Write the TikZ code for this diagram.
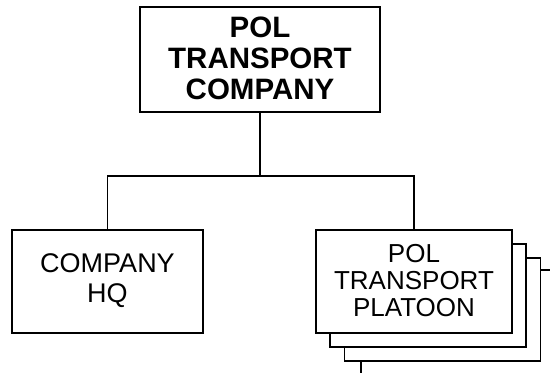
\documentclass[tikz,border=0pt]{standalone}
\usepackage{fontspec}
\setmainfont{Liberation Sans}
\begin{document}
\begin{tikzpicture}[x=1pt,y=-1pt,line width=1.4pt,
  box/.style={draw,fill=white,inner sep=0pt,align=center,minimum height=103pt},
  topbox/.style={box,minimum width=240pt,minimum height=105pt},
  hqbox/.style={box,minimum width=191pt},
  plbox/.style={box,minimum width=196pt},
  lbl/.style={inner sep=0pt,align=center}]
\useasboundingbox (0,0) rectangle (550,373);
\node[topbox] (co) at (260,59.5) {};
\node[lbl,font={\fontsize{29.5}{31}\selectfont\bfseries}] (cot) at (260,58.2) {POL\\TRANSPORT\\COMPANY};
\node[hqbox] (hq) at (107.5,281.5) {};
\node[lbl,font={\fontsize{27}{30}\selectfont}] (hqt) at (107.5,280.5) {COMPANY\\HQ};
\node[plbox] (p3) at (442.5,309.5) {};
\node[plbox] (p2) at (428,295.5) {};
\node[plbox] (pl) at (414,281.5) {};
\node[lbl,font={\fontsize{26}{27}\selectfont}] (plt) at (414,280.5) {POL\\TRANSPORT\\PLATOON};
\coordinate (bus) at (260,176);
\coordinate (re) at (550,270);
\coordinate (be) at (361,373);
\draw (co.south) -- (bus) -| (hq.north);
\draw (bus) -| (pl.north);
\draw (p3.east |- re) -- (re);
\draw (p3.south -| be) -- (be);
\end{tikzpicture}
\end{document}
